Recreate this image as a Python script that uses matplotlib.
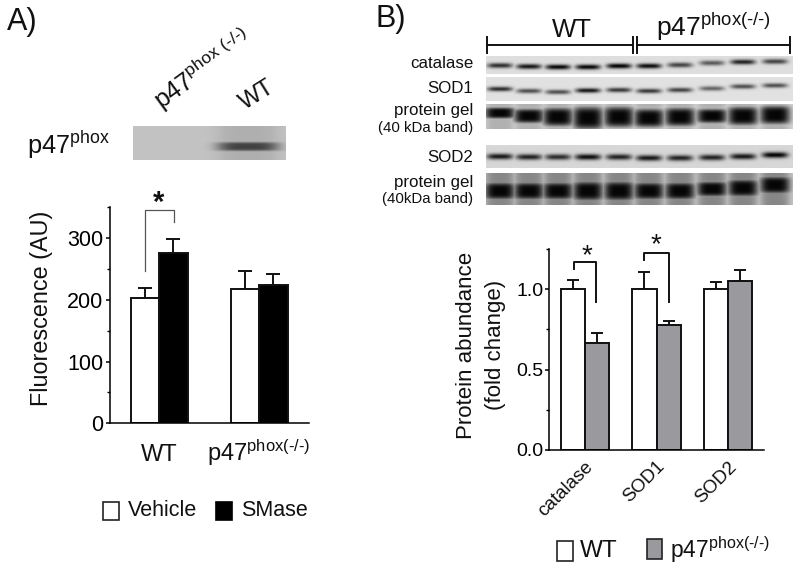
import matplotlib
matplotlib.use("Agg")
import matplotlib.pyplot as plt
import numpy as np
from matplotlib.patches import Rectangle
from matplotlib.transforms import ScaledTranslation

plt.rcParams["font.family"] = ["Liberation Sans", "DejaVu Sans"]
plt.rcParams["mathtext.fontset"] = "custom"
plt.rcParams["mathtext.rm"] = "Liberation Sans"
plt.rcParams["mathtext.default"] = "regular"

W, H = 800, 571
KO = r"p47$^{\text{phox(-/-)}}$"

# panel A bars
groupsA = ["WT", KO]
vehicle = [203, 217]
vehicleTop = [219, 246]
smase = [276, 224]
smaseTop = [299, 241.5]

# panel B bars
proteins = ["catalase", "SOD1", "SOD2"]
wt = [1.0, 1.0, 1.0]
wtTop = [1.06, 1.11, 1.046]
ko = [0.665, 0.78, 1.05]
koTop = [0.727, 0.804, 1.119]

# blot lanes: centre x, band y, darkness
laneX = [500, 529, 558, 588, 619, 649, 680, 712, 743, 775]
catalaseY = [65.5, 66.5, 67, 67, 66, 66, 65, 63, 62, 61.5]
catalaseD = [.8, .9, .98, .98, 1.0, .95, .7, .6, .85, .7]
sod1Y = [89, 91, 92, 90.5, 90, 91, 90, 88.5, 86.5, 85.5]
sod1D = [.8, .65, .65, .9, .75, .75, .7, .55, .65, .65]
gel1Y = [113, 116, 117, 118, 117, 118, 117, 116, 116, 115]
gel1D = [1.0, 1.0, 1.0, 1.0, 1.0, 1.0, 1.0, 1.0, 1.0, 1.0]
gel1T = [5.5, 7, 9, 11, 10, 9, 9, 7, 9, 9]
sod2Y = [156.5, 157, 157, 157, 157, 158, 158, 157.5, 156.5, 155]
sod2D = [.9, .85, .8, .95, .85, .9, .85, .85, .9, 1.0]
gel2Y = [191, 191, 191, 191, 191, 191, 191, 189, 188, 185]
gel2D = [1.0, 1.0, 1.0, 1.0, 1.0, 1.0, 1.0, 1.0, 1.0, 1.0]
gel2T = [8.5, 8.5, 8.5, 9.5, 9.5, 8.5, 8.5, 7.5, 8.5, 8.5]


def blot(x0, x1, y0, y1, lanes, ys, dark, thick, halfWidth, bg, smear=0.0, power=2):
    xx, yy = np.meshgrid(np.arange(x0, x1) + 0.5, np.arange(y0, y1) + 0.5)
    img = np.zeros(xx.shape)
    for cx, cy, d, t in zip(lanes, ys, dark, thick):
        lane = np.exp(-((xx - cx) / halfWidth) ** 4)
        img = np.maximum(img, d * lane * np.exp(-(np.abs(yy - cy) / t) ** power))
        if smear:
            img = np.maximum(img, smear * lane)
    return bg * (1 - img) + 0.02 * img


def px(left, top, right, bottom):
    return [left / W, 1 - bottom / H, (right - left) / W, (bottom - top) / H]


def bars(ax, x, a, aTop, b, bTop, width, colorA, colorB, cap):
    x = np.array(x, dtype=float)
    for pos, vals, tops, c in [(x - width / 2, a, aTop, colorA),
                               (x + width / 2, b, bTop, colorB)]:
        vals = np.array(vals)
        ax.bar(pos, vals, width, color=c, edgecolor="#111111", linewidth=1.4, zorder=2)
        ax.errorbar(pos, vals, yerr=[np.zeros(len(vals)), np.array(tops) - vals],
                    fmt="none", ecolor="#111111", elinewidth=1.4, capsize=cap,
                    capthick=1.4, zorder=1)


def axisStyle(ax, major, minor, size, pad):
    ax.spines["top"].set_visible(False)
    ax.spines["right"].set_visible(False)
    ax.spines["left"].set_linewidth(1.1)
    ax.spines["bottom"].set_linewidth(1.1)
    ax.set_yticks(major)
    ax.set_yticks(minor, minor=True)
    ax.tick_params(axis="y", which="major", length=3, width=1.1, labelsize=size, pad=pad)
    ax.tick_params(axis="y", which="minor", length=2, width=1.0)
    ax.patch.set_alpha(0)


fig = plt.figure(figsize=(8, 5.71), dpi=100)

# overlay in pixel coordinates for blots, labels and legends
ov = fig.add_axes([0, 0, 1, 1])
ov.axis("off")

blotA = blot(133, 286, 126, 160, [248], [146.5], [.68], [4.6], 31, 0.76, smear=0.10, power=4)
ov.imshow(blotA, extent=(133, 286, 160, 126), cmap="gray", vmin=0, vmax=1,
          aspect="auto", interpolation="bilinear")

rows = [
    (56, 74, catalaseY, catalaseD, [2.6] * 10, 12.5, 0.87, 0, 2),
    (77, 101, sod1Y, sod1D, [2.4] * 10, 12.5, 0.88, 0, 2),
    (104, 129, gel1Y, gel1D, gel1T, 15, 0.84, 0.18, 4),
    (145, 168, sod2Y, sod2D, [3.0] * 10, 13, 0.84, 0, 2),
    (173, 205, gel2Y, gel2D, gel2T, 15, 0.8, 0.35, 4),
]
for y0, y1, ys, ds, ts, hw, bg, sm, pw in rows:
    # band y positions are kept relative to the whole picture
    img = blot(486, 793, y0, y1, laneX, ys, ds, ts, hw, bg, smear=sm, power=pw)
    ov.imshow(img, extent=(486, 793, y1, y0), cmap="gray", vmin=0, vmax=1,
              aspect="auto", interpolation="bilinear")

ov.set_xlim(0, W)
ov.set_ylim(H, 0)

ov.text(7, 22, "A)", fontsize=22, va="center", color="#111111")
ov.text(376, 19, "B)", fontsize=22, va="center", color="#111111")
ov.text(27, 145, r"p47$^{phox}$", fontsize=18.3, va="center", color="#111111")
ov.text(162, 110, r"p47$^{phox\ \text{(-/-)}}$", fontsize=18, rotation=36,
        rotation_mode="anchor", ha="left", va="baseline", color="#111111")
ov.text(245, 110, "WT", fontsize=17, rotation=32, rotation_mode="anchor",
        ha="left", va="baseline", color="#111111")

# header of the blots
ov.plot([486.7, 632.7], [44.5, 44.5], color="#111111", lw=1.4)
ov.plot([636.7, 790], [44.5, 44.5], color="#111111", lw=1.4)
for xTick in [486.7, 632.7, 636.7, 790]:
    ov.plot([xTick, xTick], [36.7, 52.7], color="#111111", lw=1.4)
ov.text(572, 30, "WT", fontsize=18.5, ha="center", va="center", color="#111111")
ov.text(656, 36, KO, fontsize=19, ha="left", va="baseline", color="#111111")

rowLabels = ["catalase", "SOD1", "protein gel", "(40 kDa band)", "SOD2",
             "protein gel", "(40kDa band)"]
rowLabelY = [63.5, 88.5, 110, 128, 158, 182, 199]
rowLabelSize = [12.2, 12.2, 12.2, 10.8, 12.2, 12.2, 10.8]
for s, y, fs in zip(rowLabels, rowLabelY, rowLabelSize):
    ov.text(473.5, y, s, fontsize=fs, ha="right", va="center", color="#111111")

# stars
ov.text(158.5, 203, "*", fontsize=21, ha="center", va="center", fontweight="bold", color="#111111")
ov.text(586.5, 256, "*", fontsize=20, ha="center", va="center", color="#111111")
ov.text(656, 245, "*", fontsize=20, ha="center", va="center", color="#111111")

# legends
ov.add_patch(Rectangle((103, 502), 16, 18, fc="white", ec="#222222", lw=1.2))
ov.add_patch(Rectangle((216, 502), 16, 18, fc="black", ec="black", lw=1.2))
ov.text(128, 511, "Vehicle", fontsize=15.5, va="center", color="#111111")
ov.text(241.5, 511, "SMase", fontsize=15.5, va="center", color="#111111")
ov.add_patch(Rectangle((557, 541), 15.5, 20, fc="white", ec="#222222", lw=1.2))
ov.add_patch(Rectangle((647, 539), 15, 20, fc="#9a9a9e", ec="#222222", lw=1.2))
ov.text(580, 551, "WT", fontsize=17.5, va="center", color="#111111")
ov.text(670.5, 558, KO, fontsize=16.5, va="baseline", color="#111111")

# panel A
axA = fig.add_axes(px(110, 206.7, 309, 423.3))
xA = np.arange(len(groupsA))
bars(axA, xA, vehicle, vehicleTop, smase, smaseTop, 0.285, "white", "black", 4.8)
axA.set_xlim(-0.49, 1.5)
axA.set_ylim(0, 351)
axisStyle(axA, [0, 100, 200, 300], [50, 150, 250, 350], 15.5, 2)
axA.set_xticks(xA)
axA.set_xticklabels(groupsA, fontsize=17, color="#111111", va="baseline")
axA.tick_params(axis="x", length=0, pad=27)
axA.set_ylabel("Fluorescence (AU)", fontsize=16.8, color="#111111")
axA.yaxis.set_label_coords(-0.285, 0.532)
axA.plot([-0.137, -0.137, 0.147, 0.147], [247, 345, 345, 327], color="#555555", lw=0.9,
         clip_on=False)

# panel B
axB = fig.add_axes(px(549, 249.3, 764, 449.7))
xB = np.arange(len(proteins))
bars(axB, xB, wt, wtTop, ko, koTop, 0.336, "white", "#9a9a9e", 4.3)
axB.set_xlim(-0.503, 2.503)
axB.set_ylim(0, 1.25)
axisStyle(axB, [0, 0.5, 1.0], [0.25, 0.75, 1.25], 14, 0.8)
axB.set_yticklabels(["0.0", "0.5", "1.0"])
axB.set_xticks(xB)
axB.set_xticklabels(proteins, fontsize=13.6, rotation=45, ha="right",
                    rotation_mode="anchor", color="#111111")
shift = ScaledTranslation(-4 / 100, 0, fig.dpi_scale_trans)
for lab in axB.get_xticklabels():
    lab.set_transform(lab.get_transform() + shift)
axB.tick_params(axis="x", length=0, pad=6)
axB.set_ylabel("Protein abundance\n(fold change)", fontsize=16,
               linespacing=1.5, color="#111111")
axB.yaxis.set_label_coords(-0.2, 0.522)
axB.plot([-0.155, -0.155, 0.15, 0.15], [1.127, 1.171, 1.171, 0.921], color="#111111",
         lw=1.4, clip_on=False)
axB.plot([0.82, 0.82, 1.175, 1.175], [1.181, 1.227, 1.227, 0.921], color="#111111",
         lw=1.4, clip_on=False)

fig.savefig("out.png", dpi=100)
